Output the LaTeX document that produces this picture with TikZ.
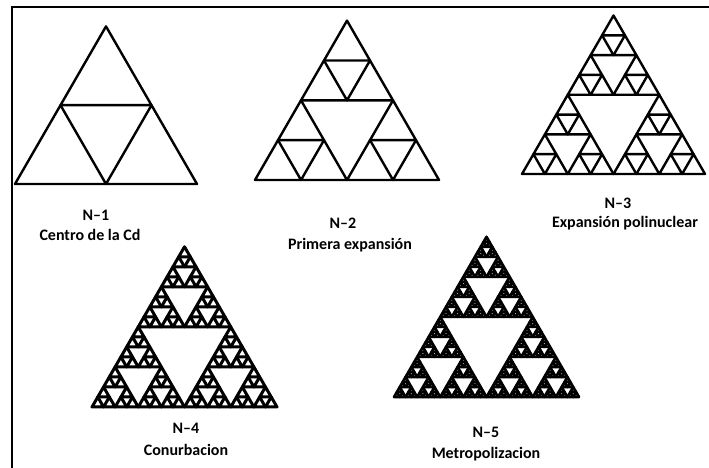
\documentclass[tikz,border=0pt]{standalone}
\usepackage{fontspec}
\setmainfont{Carlito}

% depth, x, y (lower left corner), side
\newcommand\sierpinski[4]{%
  \ifnum#1=0
    \draw[tri] (#2,#3) -- ++(#4,0) -- ++(120:#4) -- cycle;
  \else
    \begingroup
      \edef\sdepth{\the\numexpr#1-1\relax}%
      \edef\sside{\fpeval{#4/2}}%
      \edef\sxr{\fpeval{#2+#4/2}}%
      \edef\sxt{\fpeval{#2+#4/4}}%
      \edef\syt{\fpeval{#3+#4*sqrt(3)/4}}%
      \edef\snext{%
        \noexpand\sierpinski{\sdepth}{#2}{#3}{\sside}%
        \noexpand\sierpinski{\sdepth}{\sxr}{#3}{\sside}%
        \noexpand\sierpinski{\sdepth}{\sxt}{\syt}{\sside}}%
      \snext
    \endgroup
  \fi}

\begin{document}
\begin{tikzpicture}[x=1pt, y=1pt]

    \tikzstyle{tri}=[draw=black, line width=2.4pt, line join=round];
    \tikzstyle{caption}=[font=\bfseries\fontsize{16}{18}\selectfont, inner sep=0pt];

    \fill[white] (0,0) rectangle (709,468);
    \useasboundingbox (0,0) rectangle (709,468);

    \coordinate (fb) at (12,0);
    \coordinate (fc) at (12,461);
    \coordinate (fr) at (709,461);
    \draw[line width=2.5pt] (fb) -- (fc) -- (fr);

    \sierpinski{1}{15}{284}{182}
    \sierpinski{2}{255}{288}{184}
    \sierpinski{3}{522}{294}{183}
    \begin{scope}[tri/.append style={line width=3pt}]
    \sierpinski{4}{92}{61}{185}
    \end{scope}
    \begin{scope}[tri/.append style={line width=2.6pt}]
    \sierpinski{5}{394}{71}{185}
    \end{scope}

    \node (n1) at (96, 253) [caption] {N–1};
    \node (c1) at (90, 233) [caption] {Centro de la Cd};

    \node (n2) at (343, 245) [caption] {N–2};
    \node (c2) at (350, 223) [caption] {Primera expansión};

    \node (n3) at (618, 265) [caption] {N–3};
    \node (c3) at (625, 245) [caption] {Expansión polinuclear};

    \node (n4) at (186, 40) [caption] {N–4};
    \node (c4) at (186, 18) [caption] {Conurbacion};

    \node (n5) at (486, 36) [caption] {N–5};
    \node (c5) at (486, 14) [caption] {Metropolizacion};

\end{tikzpicture}
\end{document}
